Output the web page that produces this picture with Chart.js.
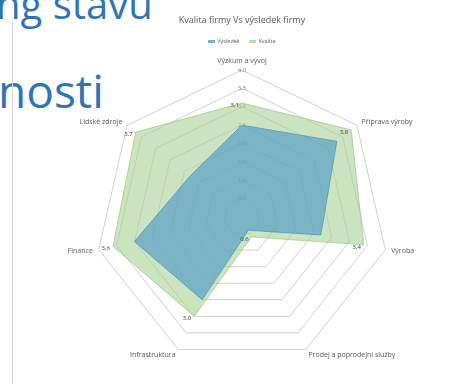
<!DOCTYPE html>
<html>
<head>
<meta charset="utf-8">
<script src="https://cdn.jsdelivr.net/npm/chart.js@4/dist/chart.umd.min.js"></script>
<style>
  html, body { margin: 0; padding: 0; background: #fff; }
  #wrap { position: relative; width: 467px; height: 384px; overflow: hidden; }
  .slide { position: absolute; font-family: "Open Sans", sans-serif; color: #2E75B6; white-space: nowrap; }
  #rule { position: absolute; left: 12px; top: 22px; width: 1px; height: 362px; background: #d9d9d9; }
  #c { position: absolute; left: 0; top: 0; }
</style>
</head>
<body>
<div id="wrap">
  <div class="slide" style="left:-4px; top:-24px; font-size:40px;">ng stavu</div>
  <div class="slide" style="left:-2px; top:59px; font-size:46px;">nosti</div>
  <div id="rule"></div>
  <canvas id="c" width="467" height="384"></canvas>
</div>
<script>
const categories = ['Výzkum a vývoj', 'Příprava výroby', 'Výroba', 'Prodej a poprodejní služby', 'Infrastruktura', 'Finance', 'Lidské zdroje'];
const kvalita = [3.1, 3.8, 3.4, 0.6, 3.0, 3.6, 3.7];
const vysledek = [2.5, 3.3, 2.2, 0.4, 2.5, 3.0, 1.8];
const tickValues = [0, 0.5, 1, 1.5, 2, 2.5, 3, 3.5, 4];

// category names round the outer ring, placed like Excel does
const axisLabels = {
  id: 'axisLabels',
  afterDraw(chart) {
    const scale = chart.scales.r;
    const ctx = chart.ctx;
    ctx.save();
    ctx.font = '7px "Open Sans"';
    ctx.fillStyle = '#595959';
    categories.forEach((name, i) => {
      const p = scale.getPointPosition(i, scale.drawingArea + 6);
      if (Math.abs(p.x - scale.xCenter) < 2) {
        ctx.textAlign = 'center';
        ctx.textBaseline = 'bottom';
      } else {
        ctx.textAlign = p.x > scale.xCenter ? 'left' : 'right';
        ctx.textBaseline = 'middle';
      }
      ctx.fillText(name, p.x, p.y);
    });
    ctx.restore();
  }
};

// value labels of the green series
const valueLabels = {
  id: 'valueLabels',
  afterDraw(chart) {
    const ctx = chart.ctx;
    const meta = chart.getDatasetMeta(1);
    ctx.save();
    ctx.font = '6px "Open Sans"';
    ctx.fillStyle = '#404040';
    ctx.textAlign = 'right';
    ctx.textBaseline = 'middle';
    meta.data.forEach((pt, i) => {
      ctx.fillText(kvalita[i].toFixed(1).replace('.', ','), pt.x - 3, pt.y + 2);
    });
    ctx.restore();
  }
};

new Chart(document.getElementById('c'), {
  type: 'radar',
  data: {
    labels: categories,
    datasets: [{
      label: 'Výsledek',
      data: vysledek,
      backgroundColor: 'rgba(80, 155, 200, 0.65)',
      borderColor: 'rgba(80, 150, 195, 0.8)',
      borderWidth: 1,
      pointRadius: 0,
      fill: true,
      order: 0
    }, {
      label: 'Kvalita',
      data: kvalita,
      backgroundColor: 'rgba(170, 210, 150, 0.6)',
      borderColor: 'rgba(160, 205, 140, 0.8)',
      borderWidth: 1,
      pointRadius: 0,
      fill: true,
      order: 1
    }]
  },
  options: {
    responsive: false,
    animation: false,
    layout: { padding: { left: 90, right: 73, top: 0, bottom: 4 } },
    plugins: {
      title: {
        display: true,
        text: 'Kvalita firmy Vs výsledek firmy',
        color: '#595959',
        font: { size: 9, family: 'Open Sans', weight: 'normal' },
        padding: { top: 15, bottom: 3 }
      },
      legend: {
        display: true,
        position: 'top',
        labels: {
          boxWidth: 6, boxHeight: 2, padding: 10,
          color: '#595959',
          font: { size: 5.5, family: 'Open Sans' }
        }
      },
      tooltip: { enabled: false }
    },
    scales: {
      r: {
        min: 0,
        max: 4,
        z: 1,
        afterBuildTicks(scale) { scale.ticks = tickValues.map(v => ({ value: v })); },
        angleLines: { display: false },
        grid: { color: 'rgba(190, 190, 190, 0.7)', lineWidth: 1 },
        ticks: {
          showLabelBackdrop: false,
          color: '#7f7f7f',
          font: { size: 6, family: 'Open Sans' },
          callback: v => v.toFixed(1).replace('.', ',')
        },
        pointLabels: { display: false }
      }
    }
  },
  plugins: [axisLabels, valueLabels]
});
</script>
</body>
</html>
